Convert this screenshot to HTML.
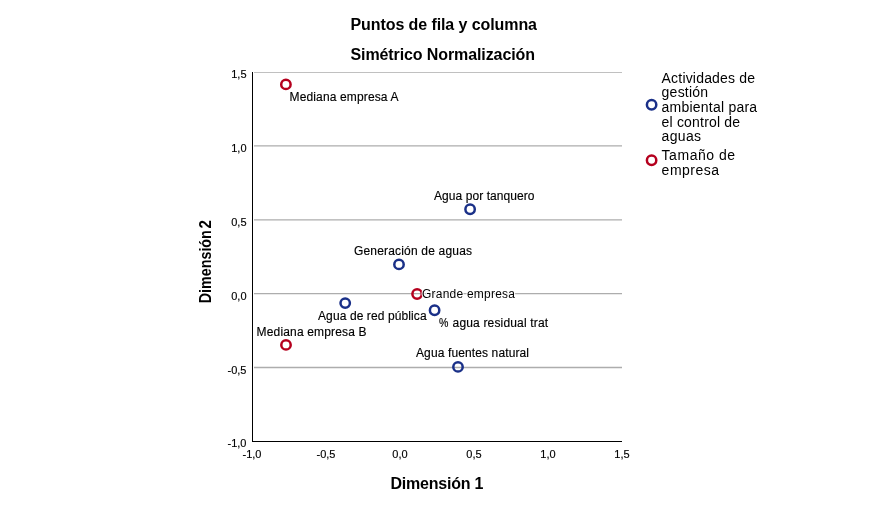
<!DOCTYPE html>
<html><head><meta charset="utf-8">
<style>
html,body{margin:0;padding:0;background:#fff;}
svg{display:block;}
text{font-family:"Liberation Sans",Arial,sans-serif;fill:#000;}
.t{font-size:16px;font-weight:bold;}
.l{font-size:12px;stroke:#000;stroke-width:0.15;}
.k{font-size:11px;stroke:#000;stroke-width:0.15;}
.g{font-size:14px;}
.ax{font-size:16px;font-weight:bold;}
.b{fill:none;stroke:#1a3088;stroke-width:2.5;}
.r{fill:none;stroke:#b5001e;stroke-width:2.5;}
</style></head><body>
<svg width="886" height="521" viewBox="0 0 886 521">
<rect width="886" height="521" fill="#fff"/>
<text class="t" x="350.5" y="30" textLength="186.5">Puntos de fila y columna</text>
<text class="t" x="350.5" y="60" textLength="184.5">Simétrico Normalización</text>
<line x1="254" y1="72.5" x2="622" y2="72.5" stroke="#c0c0c0" stroke-width="1" shape-rendering="crispEdges"/>
<g stroke="#adadad" stroke-width="1.3">
<line x1="254" y1="145.85" x2="622" y2="145.85"/>
<line x1="254" y1="219.8" x2="622" y2="219.8"/>
<line x1="254" y1="293.6" x2="622" y2="293.6"/>
<line x1="254" y1="367.5" x2="622" y2="367.5"/>
</g>
<g stroke="#000" stroke-width="1" shape-rendering="crispEdges">
<line x1="252.5" y1="72" x2="252.5" y2="442"/>
<line x1="252" y1="441.5" x2="622" y2="441.5"/>
</g>
<g class="k" text-anchor="end">
<text x="246.5" y="78">1,5</text>
<text x="246.5" y="152">1,0</text>
<text x="246.5" y="226">0,5</text>
<text x="246.5" y="300">0,0</text>
<text x="246.5" y="374">-0,5</text>
<text x="246.5" y="447">-1,0</text>
</g>
<g class="k" text-anchor="middle">
<text x="252" y="458">-1,0</text>
<text x="326" y="458">-0,5</text>
<text x="400" y="458">0,0</text>
<text x="474" y="458">0,5</text>
<text x="548" y="458">1,0</text>
<text x="622" y="458">1,5</text>
</g>
<text class="ax" x="390.5" y="489" textLength="93">Dimensión 1</text>
<text class="ax" transform="translate(210.8,303.2) rotate(-90)" textLength="73" lengthAdjust="spacingAndGlyphs">Dimensión</text>
<text class="ax" transform="translate(210.8,228.6) rotate(-90)" textLength="8.4" lengthAdjust="spacingAndGlyphs">2</text>
<circle class="r" cx="285.9" cy="84.4" r="4.7"/>
<circle class="b" cx="470.1" cy="209.3" r="4.7"/>
<circle class="b" cx="399" cy="264.4" r="4.7"/>
<circle class="r" cx="417.1" cy="294" r="4.7"/>
<circle class="b" cx="345.2" cy="303.1" r="4.7"/>
<circle class="b" cx="434.6" cy="310.2" r="4.7"/>
<circle class="r" cx="286" cy="344.9" r="4.7"/>
<circle class="b" cx="458" cy="366.9" r="4.7"/>
<g class="l">
<text x="289.5" y="101" textLength="109">Mediana empresa A</text>
<text x="434" y="200" textLength="100.5">Agua por tanquero</text>
<text x="354" y="255" textLength="118">Generación de aguas</text>
<text x="422" y="298" textLength="93" style="paint-order:stroke;stroke:#fff;stroke-width:2.2;stroke-opacity:0.85">Grande empresa</text>
<text x="318" y="320" textLength="108.6">Agua de red pública</text>
<text x="438.9" y="327" textLength="9.4" lengthAdjust="spacingAndGlyphs">%</text><text x="452.6" y="327" textLength="95.5">agua residual trat</text>
<text x="256.6" y="336" textLength="110">Mediana empresa B</text>
<text x="416" y="357" textLength="113">Agua fuentes natural</text>
</g>
<circle class="b" cx="651.6" cy="104.7" r="4.7"/>
<circle class="r" cx="651.6" cy="160.2" r="4.7"/>
<g class="g">
<text x="661.6" y="83" textLength="93.5">Actividades de</text>
<text x="661.6" y="97" textLength="46.5">gestión</text>
<text x="661.6" y="112" textLength="95.5">ambiental para</text>
<text x="661.6" y="126.5" textLength="78.5">el control de</text>
<text x="661.6" y="140.5" textLength="39.5">aguas</text>
<text x="661.6" y="160" textLength="73.5">Tamaño de</text>
<text x="661.6" y="175" textLength="57.5">empresa</text>
</g>
</svg>
</body></html>
